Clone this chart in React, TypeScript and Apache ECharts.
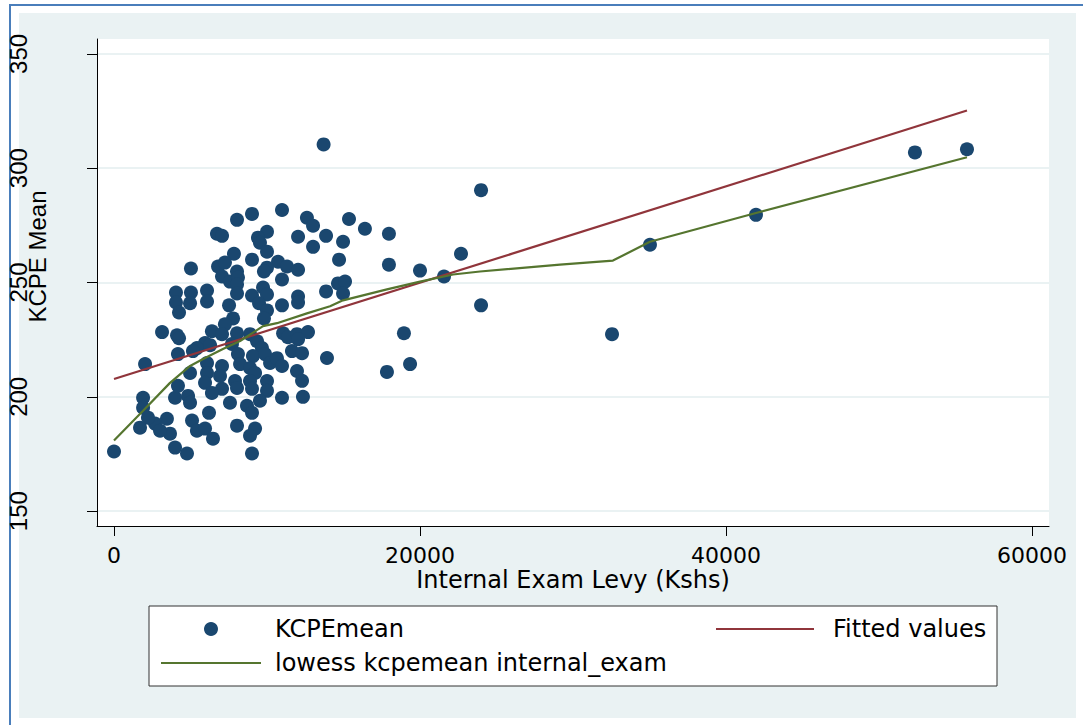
import { useEffect, useRef } from "react";
import * as echarts from "echarts";

// Scatter data: Internal Exam Levy (Kshs) vs KCPE mean
const levy = [
  13700, 10980, 9020, 8040, 12610, 13010, 6730, 7060, 10000, 9410,
  9540, 12030, 13860, 13010, 7840, 10000, 9020, 5030, 6800, 7250,
  10720, 11310, 12030, 10000, 9800, 8040, 7060, 7580, 8100, 10980,
  8040, 9740, 6080, 4050, 5030, 8040, 9020, 10000, 12030, 13860,
  4050, 4970, 6080, 9480, 10980, 7520, 10000, 12030, 4250, 9800,
  7780, 7250,
  3140, 4120, 4250, 6400, 7060, 5950, 5420, 6280, 8040, 7710,
  8890, 9350, 9670, 11050, 11370, 11960, 12680, 12030, 13920, 4180,
  5160, 8100, 8240, 9080, 8890, 9220, 9870, 10200, 10650, 10980,
  11630, 12290, 11960, 12290, 4970, 6080, 6080, 5950, 7060, 6930,
  7910, 8040, 7060, 6400, 8890, 9020, 10000, 10000, 9540, 10980,
  12350, 3990, 4840, 4970, 7580, 8690, 9020, 6210, 3460, 2680,
  5100, 5420, 5950, 3660, 3010, 6470, 8040, 9220, 8890, 3990,
  4770, 9020, 0, 2030, 1900, 1900, 2220, 1700, 4180,
  15360, 16400, 17970, 14970, 14710, 17970, 20000, 21570, 22680, 14640,
  15100, 14970, 23990, 23990, 18950, 19350, 17840, 32550, 35030, 41960,
  52350, 55750,
];
const kcpeMean = [
  310.4, 281.7, 280.0, 277.4, 278.3, 274.8, 271.3, 270.4, 272.2, 269.6,
  267.4, 270.0, 270.4, 265.6, 262.6, 263.5, 260.0, 256.1, 257.0, 258.7,
  259.1, 257.0, 255.6, 256.5, 254.8, 254.8, 252.6, 250.4, 252.2, 251.3,
  249.1, 247.8, 246.5, 245.6, 245.6, 245.2, 244.3, 244.8, 243.9, 246.1,
  241.3, 240.9, 241.7, 240.9, 240.0, 240.0, 237.8, 241.3, 236.9, 234.3,
  234.3, 231.7,
  228.3, 226.9, 225.6, 228.7, 227.4, 223.5, 221.3, 222.6, 227.8, 223.1,
  227.4, 224.3, 221.3, 227.8, 226.1, 227.4, 228.3, 225.2, 217.0, 218.7,
  220.0, 218.7, 214.3, 217.8, 212.6, 210.4, 218.7, 214.8, 216.9, 213.5,
  220.0, 219.1, 211.3, 207.0, 210.4, 214.8, 210.4, 206.1, 213.5, 209.1,
  206.9, 203.9, 203.5, 201.7, 206.9, 203.5, 206.9, 202.6, 198.3, 199.6,
  200.0, 199.6, 200.4, 197.4, 197.4, 196.1, 193.0, 193.0, 190.4, 188.3,
  189.6, 185.2, 186.1, 183.9, 185.2, 181.7, 187.4, 186.1, 183.0, 177.8,
  175.2, 175.2, 176.1, 214.3, 199.6, 195.2, 190.9, 186.5, 204.8,
  277.8, 273.5, 271.3, 267.8, 260.0, 257.8, 255.2, 252.6, 262.6, 249.6,
  250.4, 245.2, 290.4, 240.0, 227.8, 214.3, 210.9, 227.4, 266.5, 279.6,
  306.9, 308.3,
];

// Linear fit
const fitX = [0, 55750];
const fitY = [207.8, 325.2];

// Lowess smoother
const lowessX = [0, 1900, 3660, 4970, 5820, 7120, 8240, 9740, 10650, 12610, 14120, 14970, 17840, 20000, 22160, 23920, 29150, 32610, 35030, 41960, 55750];
const lowessY = [180.9, 193.9, 206.1, 213.5, 216.5, 220.9, 224.4, 230.9, 232.2, 236.5, 239.6, 242.2, 247.0, 250.4, 253.5, 254.8, 257.8, 259.6, 267.8, 280.4, 304.8];

const xTicks = [0, 20000, 40000, 60000];
const yTicks = [150, 200, 250, 300, 350];

export default function App() {
  const ref = useRef<HTMLDivElement>(null);
  useEffect(() => {
    const chart = echarts.init(ref.current!, null, { renderer: "svg" });
    const hFont = "'DejaVu Sans', sans-serif";
    const vFont = "'Liberation Sans', Arial, sans-serif";
    chart.setOption({
      animation: false,
      backgroundColor: "#ffffff",
      graphic: [
        { type: "rect", z: -10, silent: true, shape: { x: 10, y: 5, width: 1100, height: 750 }, style: { fill: "#ffffff", stroke: "#4a7ebb", lineWidth: 2 } },
        { type: "rect", z: -9, silent: true, shape: { x: 19, y: 13, width: 1057, height: 705 }, style: { fill: "#eaf2f3" } },
        { type: "rect", z: 1, silent: true, shape: { x: 149, y: 606, width: 848, height: 80 }, style: { fill: "#ffffff", stroke: "#333333", lineWidth: 1 } },
      ],
      grid: {
        left: 97, top: 39, width: 952, height: 487,
        show: true, backgroundColor: "#ffffff", borderWidth: 0,
        containLabel: false, outerBoundsMode: "none",
      },
      xAxis: {
        type: "value",
        min: -1111,
        max: 61111,
        axisLine: { show: true, onZero: false, lineStyle: { color: "#000", width: 1 } },
        axisTick: { show: true, length: 10, customValues: xTicks, lineStyle: { color: "#000" } },
        axisLabel: { customValues: xTicks, margin: 20, fontSize: 22, lineHeight: 18, fontFamily: hFont, color: "#000", formatter: (v: number) => String(v) },
        splitLine: { show: false },
        name: "Internal Exam Levy (Kshs)",
        nameLocation: "middle",
        nameGap: 44,
        nameMoveOverlap: false,
        nameTextStyle: { fontSize: 24, lineHeight: 20, fontFamily: hFont, color: "#000" },
      },
      yAxis: {
        type: "value",
        min: 143.5,
        max: 356.5,
        axisLine: { show: true, onZero: false, lineStyle: { color: "#000", width: 1 } },
        axisTick: { show: true, length: 10, customValues: yTicks, lineStyle: { color: "#000" } },
        axisLabel: { customValues: yTicks, rotate: 90, margin: 67, fontSize: 24, fontFamily: vFont, color: "#000", formatter: (v: number) => String(v) },
        splitLine: { show: true, lineStyle: { color: "#eaf2f3", width: 2 } },
        name: "KCPE Mean",
        nameLocation: "middle",
        nameRotate: 90,
        nameGap: 48,
        nameMoveOverlap: false,
        nameTextStyle: { fontSize: 24, fontFamily: vFont, color: "#000", padding: [0, 0, 0, 52] },
      },
      legend: [
        {
          data: ["KCPEmean", { name: "lowess kcpemean internal_exam", itemStyle: { opacity: 0 } }],
          orient: "vertical",
          left: 160,
          top: 617,
          padding: 0,
          itemWidth: 100,
          itemHeight: 14,
          itemGap: 10,
          selectedMode: false,
          textStyle: { fontSize: 24, lineHeight: 24, fontFamily: hFont, color: "#000", padding: [0, 0, 0, 9] },
        },
        {
          data: [{ name: "Fitted values", itemStyle: { opacity: 0 } }],
          orient: "vertical",
          left: 715,
          top: 617,
          padding: 0,
          itemWidth: 98,
          itemHeight: 14,
          selectedMode: false,
          textStyle: { fontSize: 24, lineHeight: 24, fontFamily: hFont, color: "#000", padding: [0, 0, 0, 14] },
        },
      ],
      series: [
        {
          type: "scatter",
          name: "KCPEmean",
          data: levy.map((x, i) => [x, kcpeMean[i]]),
          symbol: "circle",
          symbolSize: 14,
          itemStyle: { color: "#1a476f", opacity: 1 },
        },
        {
          type: "line",
          name: "Fitted values",
          data: fitX.map((x, i) => [x, fitY[i]]),
          symbol: "none",
          showSymbol: false,
          lineStyle: { color: "#90353b", width: 2.2 },
          itemStyle: { color: "#90353b" },
        },
        {
          type: "line",
          name: "lowess kcpemean internal_exam",
          data: lowessX.map((x, i) => [x, lowessY[i]]),
          symbol: "none",
          showSymbol: false,
          lineStyle: { color: "#55752f", width: 2.2 },
          itemStyle: { color: "#55752f" },
        },
      ],
    });
    return () => chart.dispose();
  }, []);
  return <div ref={ref} style={{ position: "fixed", left: 0, top: 0, width: 1083, height: 725 }} />;
}
